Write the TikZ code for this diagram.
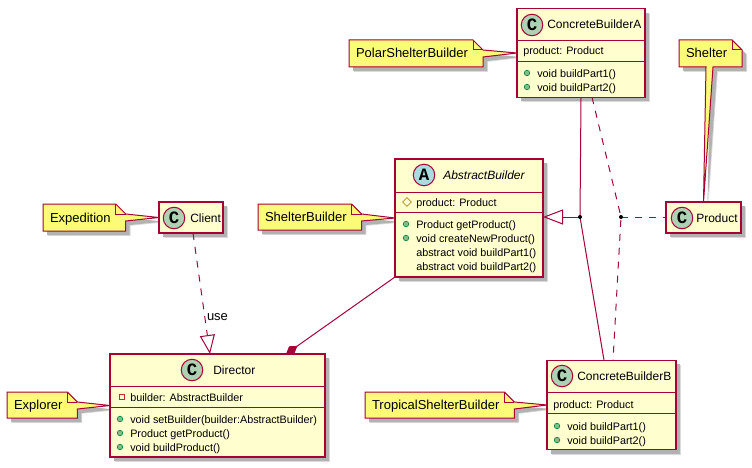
\documentclass[tikz,border=0pt]{standalone}
\usepackage{fontspec}
\setmainfont{Liberation Sans}
\newfontfamily\spotfont{Liberation Mono}
\usetikzlibrary{calc,arrows.meta,shadows,backgrounds,shapes.geometric}
\definecolor{umlred}{HTML}{A80036}
\definecolor{umlfill}{HTML}{FEFECE}
\definecolor{notefill}{HTML}{FBFB77}
\definecolor{spotgreen}{HTML}{ADD1B2}
\definecolor{spotblue}{HTML}{A9DCDF}
\definecolor{pubgreen}{HTML}{84BE84}
\definecolor{pubedge}{HTML}{038048}
\definecolor{privred}{HTML}{C82930}
\definecolor{protbrown}{HTML}{B38D22}
\def\px{0.75pt}
\tikzset{
	softshadow/.style={
		general shadow={shadow xshift=3.6pt,shadow yshift=-3.6pt,fill=black!14},
		general shadow={shadow xshift=3pt,shadow yshift=-3pt,fill=black!30}},
	classbox/.style={draw=umlred,fill=umlfill,line width=1pt,outer sep=0pt,inner sep=0pt,softshadow},
	notebox/.style={anchor=west,inner xsep=7*\px,inner ysep=0pt,outer sep=0pt,text height=9.5*\px,text depth=0.5*\px,font=\fontsize{9.75}{11}\selectfont},
	noteshape/.style={draw=umlred,fill=notefill,line width=0.75pt,softshadow},
	notefold/.style={draw=umlred,line width=0.75pt},
	titletext/.style={anchor=base west,inner sep=0pt,font=\fontsize{9}{11}\selectfont},
	member/.style={anchor=base west,inner sep=0pt,font=\fontsize{8.1}{10}\selectfont},
	spot/.style={circle,draw=umlred,line width=0.75pt,minimum size=21.5*\px,inner sep=0pt,font=\spotfont\fontsize{13}{13}\bfseries\selectfont},
	pubdot/.style={circle,draw=pubedge,fill=pubgreen,minimum size=5.5*\px,inner sep=0pt,line width=0.5pt},
	link/.style={draw=umlred,line width=0.75pt},
	dashlink/.style={link,dash pattern=on 5.25pt off 5.25pt},
	joint/.style={circle,fill=black,minimum size=4*\px,inner sep=0pt}
}
\def\classrule#1#2{\draw[draw=umlred,line width=0.75pt] ($(#1.north west)+(0,#2)$) -- ($(#1.north east)+(0,#2)$);}
\def\pubmember(#1)(#2,#3)#4{
	\node[pubdot] (#1dot) at (#2-10,#3) {};
	\node[member] (#1) at (#2,#3+4) {#4};
}
\def\noteright(#1)(#2){
	\begin{scope}[on background layer]
		\draw[noteshape] (#1.north west) -- ($(#1.north east)+(-10,0)$) -- ($(#1.north east)+(0,10)$) -- (#2) -- ($(#1.north east)+(0,17)$) -- (#1.south east) -- (#1.south west) -- cycle;
		\draw[notefold] ($(#1.north east)+(-10,0)$) -- ($(#1.north east)+(-10,10)$) -- ($(#1.north east)+(0,10)$);
	\end{scope}
}
\def\notegap{\hspace*{6pt}}

\begin{document}
\begin{tikzpicture}[x=0.75pt,y=-0.75pt]
	\useasboundingbox (0,0) rectangle (752,467);

	%%%%% CONNECTORS %%%%%
	\coordinate (joinA) at (580,217);
	\coordinate (joinB) at (621,217);

	%%%%% CLASSES %%%%%
	\node[classbox,minimum width=128*\px,minimum height=88.5*\px] (concreteA) at (581,53) {};
	\classrule{concreteA}{32}
	\classrule{concreteA}{53}
	\node[spot,fill=spotgreen] (concreteAspot) at (532,25) {C};
	\node[titletext] (concreteAname) at (547,29) {ConcreteBuilderA};
	\node[member] (concreteAfield) at (523,55) {product: Product};
	\pubmember(concreteAone)(537,73){void buildPart1()}
	\pubmember(concreteAtwo)(537,87){void buildPart2()}

	\node[classbox,minimum width=129*\px,minimum height=89.5*\px] (concreteB) at (611.5,405) {};
	\classrule{concreteB}{32}
	\classrule{concreteB}{53.5}
	\node[spot,fill=spotgreen] (concreteBspot) at (562,376) {C};
	\node[titletext] (concreteBname) at (577,380) {ConcreteBuilderB};
	\node[member] (concreteBfield) at (553,408) {product: Product};
	\pubmember(concreteBone)(567,426){void buildPart1()}
	\pubmember(concreteBtwo)(567,440){void buildPart2()}

	\node[classbox,minimum width=148*\px,minimum height=118*\px] (abstract) at (469,218) {};
	\classrule{abstract}{33}
	\classrule{abstract}{53}
	\node[spot,fill=spotblue] (abstractspot) at (424,175) {A};
	\node[titletext,font=\fontsize{9}{11}\itshape\selectfont] (abstractname) at (443,179) {AbstractBuilder};
	\node[diamond,draw=protbrown,minimum size=9*\px,inner sep=0pt,line width=0.5pt] (abstractfieldmark) at (407,202) {};
	\node[member] (abstractfield) at (416,206) {product: Product};
	\pubmember(abstractone)(416,224){Product getProduct()}
	\pubmember(abstracttwo)(416,238){void createNewProduct()}
	\node[member] (abstractthree) at (416,256) {abstract void buildPart1()};
	\node[member] (abstractfour) at (416,270) {abstract void buildPart2()};

	\node[classbox,minimum width=215*\px,minimum height=103*\px] (director) at (217.5,405.5) {};
	\classrule{director}{32}
	\classrule{director}{53}
	\node[spot,fill=spotgreen] (directorspot) at (192,370) {C};
	\node[titletext] (directorname) at (213,374) {Director};
	\node[rectangle,draw=privred,minimum size=5.5*\px,inner sep=0pt,line width=0.5pt] (directorfieldmark) at (122,397) {};
	\node[member] (directorfield) at (130,401) {builder: AbstractBuilder};
	\pubmember(directorone)(130,419){void setBuilder(builder:AbstractBuilder)}
	\pubmember(directortwo)(130,433){Product getProduct()}
	\pubmember(directorthree)(130,447){void buildProduct()}

	\node[classbox,minimum width=64*\px,minimum height=31*\px] (client) at (191,217.5) {};
	\node[spot,fill=spotgreen] (clientspot) at (174,218) {C};
	\node[titletext] (clientname) at (190,222) {Client};

	\node[classbox,minimum width=75*\px,minimum height=31*\px] (product) at (703.5,217.5) {};
	\node[spot,fill=spotgreen] (productspot) at (682,218) {C};
	\node[titletext] (productname) at (696,222) {Product};

	%%%%% NOTES %%%%%
	\node[notebox,minimum height=27*\px] (polar) at (349,53.5) {PolarShelterBuilder\notegap};
	\noteright(polar)(concreteA.west)
	\node[notebox,minimum height=26*\px] (shelterbuilder) at (258,217) {ShelterBuilder\notegap};
	\noteright(shelterbuilder)(abstract.west)
	\node[notebox,minimum height=26*\px] (explorer) at (7,405) {Explorer\notegap};
	\noteright(explorer)(director.west)
	\node[notebox,minimum height=27*\px] (expedition) at (43,217.5) {Expedition\notegap};
	\noteright(expedition)(client.west)
	\node[notebox,minimum height=26*\px] (tropical) at (365,405) {TropicalShelterBuilder\notegap};
	\noteright(tropical)(concreteB.west)

	\node[notebox,minimum height=27*\px] (shelter) at (679,53.5) {Shelter\notegap};
	\begin{scope}[on background layer]
		\draw[noteshape] (shelter.north west) -- ($(shelter.north east)+(-10,0)$) -- ($(shelter.north east)+(0,10)$) -- (shelter.south east) -- (713,67) -- (product.north) -- (706,67) -- (shelter.south west) -- cycle;
		\draw[notefold] ($(shelter.north east)+(-10,0)$) -- ($(shelter.north east)+(-10,10)$) -- ($(shelter.north east)+(0,10)$);
	\end{scope}

	%%%%% LINKS %%%%%
	\draw[dashlink,-{Triangle[open,length=19*\px,width=15*\px,line width=0.75pt]}] ($(client.south)+(2,0)$) -- ($(director.north)+(-7.5,0)$);
	\node[notebox] (uselabel) at (200,316) {use};
	\draw[link,-{Diamond[fill=umlred,length=14*\px,width=9*\px]}] (abstract.south west) -- ($(director.north)+(68.5,0)$);
	\draw[link,-{Triangle[open,length=20*\px,width=15*\px,line width=0.75pt]}] (joinA) -- (abstract.east |- joinA);
	\draw[link] (concreteA.south) -- (joinA) -- ($(concreteB.north)+(-7.5,0)$);
	\draw[dashlink] ($(concreteA.south)+(11,0)$) -- (joinB) -- ($(concreteB.north)+(1.5,0)$);
	\draw[dashlink] (joinB) -- (product.west |- joinB);
	\node[joint] (jointA) at (joinA) {};
	\node[joint] (jointB) at (joinB) {};
\end{tikzpicture}
\end{document}
